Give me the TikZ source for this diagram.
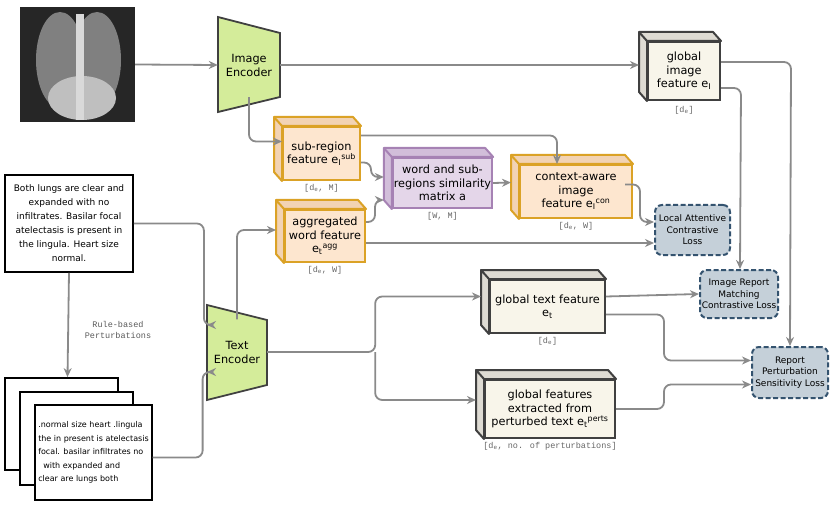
\documentclass[tikz,border=0pt]{standalone}
\usepackage{fontspec}
\setmainfont{DejaVu Sans}
\newfontfamily\monofont{Liberation Mono}
\usetikzlibrary{arrows.meta,positioning,calc}
\definecolor{encfill}{HTML}{D4EC9A}
\definecolor{orfill}{HTML}{FDE6CF}
\definecolor{orside}{HTML}{F2D3B4}
\definecolor{ordraw}{HTML}{DBA226}
\definecolor{pufill}{HTML}{E4D6E9}
\definecolor{puside}{HTML}{D2BEDA}
\definecolor{pudraw}{HTML}{A682B4}
\definecolor{glfill}{HTML}{F8F5EA}
\definecolor{glside}{HTML}{DEDBD3}
\definecolor{lossfill}{HTML}{C5D0D9}
\definecolor{lossdraw}{HTML}{34536F}
\definecolor{flow}{HTML}{8A8A8A}
\tikzset{%
  box/.style      = {shape=rectangle, draw, line width=2pt, align=center,%
                     font=\fontsize{11.3}{13.5}\selectfont, inner sep=1pt},%
  subbox/.style   = {box, fill=orfill, draw=ordraw},%
  simbox/.style   = {box, fill=pufill, draw=pudraw},%
  glbox/.style    = {box, fill=glfill, draw=black!75},%
  loss/.style     = {shape=rectangle, rounded corners=7pt, draw=lossdraw,%
                     fill=lossfill, dash pattern=on 5pt off 2.5pt,%
                     line width=2pt, align=center, inner sep=1pt,%
                     font=\fontsize{9}{11.5}\selectfont},%
  report/.style   = {shape=rectangle, draw, line width=1.8pt, fill=white,%
                     align=center, inner sep=1pt,%
                     font=\fontsize{9}{14}\selectfont},%
  dims/.style     = {font=\monofont\fontsize{8.5}{9}\selectfont, text=black!60},%
  encoder/.style  = {draw=black!75, fill=encfill, line width=1.8pt},%
  flow/.style     = {draw=flow, line width=1.8pt, rounded corners=7pt,%
                     -{Stealth[length=9pt,width=8pt]}}%
}
\newcommand\cubesides[3]{%
  \draw[#3, line width=2pt, fill=#2, line join=round]
    (#1.north west) -- ++(-8,-9) -- ($(#1.north east)+(-8,-9)$) -- (#1.north east) -- cycle
    (#1.north west) -- ++(-8,-9) -- ($(#1.south west)+(-8,-9)$) -- (#1.south west) -- cycle;}
\begin{document}
\begin{tikzpicture}[x=1pt,y=-1pt]
\useasboundingbox (0,0) rectangle (836,516);
% x-ray
\fill[black!85] (20,7) rectangle (135,122);
\fill[black!50] (60,60) ellipse (24 and 48);
\fill[black!50] (97,60) ellipse (24 and 48);
\fill[black!25] (82,98) ellipse (34 and 22);
\fill[black!15] (76,14) rectangle (84,120);
\node[inner sep=0pt, minimum width=115pt, minimum height=115pt] (xray) at (77.5,64.5) {};
% encoders
\draw[encoder] (218,17) -- (280,33) -- (280,97) -- (218,112) -- cycle;
\node[align=center, font=\fontsize{11.3}{14}\selectfont, minimum width=62pt, minimum height=64pt, inner sep=0pt] (imgenc) at (249,65) {Image\\Encoder};
\draw[encoder] (207,305) -- (267,320) -- (267,385) -- (207,400) -- cycle;
\node[align=center, font=\fontsize{11.3}{14}\selectfont, minimum width=60pt, minimum height=65pt, inner sep=0pt] (txtenc) at (237,352) {Text\\Encoder};
% feature cubes
\node[glbox, minimum width=72pt, minimum height=58pt] (glimg) at (684,71) {global\\image\\feature e\textsubscript{I}};
\cubesides{glimg}{glside}{black!75}
\node[dims, below=2pt of glimg.south] {[d\textsubscript{e}]};
\node[subbox, minimum width=77pt, minimum height=53pt] (subreg) at (321.5,153.5) {sub-region\\feature e\textsubscript{I}\textsuperscript{sub}};
\cubesides{subreg}{orside}{ordraw}
\node[dims, below=0pt of subreg.south] {[d\textsubscript{e}, M]};
\node[simbox, minimum width=97pt, minimum height=50pt] (simmat) at (442.5,183) {word and sub-\\regions similarity\\matrix a};
\cubesides{simmat}{puside}{pudraw}
\node[dims, below=0pt of simmat.south] {[W, M]};
\node[subbox, minimum width=112pt, minimum height=53pt] (ctx) at (576,191.5) {context-aware\\image\\feature e\textsubscript{I}\textsuperscript{con}};
\cubesides{ctx}{orside}{ordraw}
\node[dims, below=0pt of ctx.south] {[d\textsubscript{e}, W]};
\node[subbox, minimum width=80pt, minimum height=52pt] (agg) at (325,236) {aggregated\\word feature\\e\textsubscript{t}\textsuperscript{agg}};
\cubesides{agg}{orside}{ordraw}
\node[dims, below=0pt of agg.south] {[d\textsubscript{e}, W]};
\node[glbox, minimum width=115pt, minimum height=53pt] (gltxt) at (547.5,306.5) {global text feature\\e\textsubscript{t}};
\cubesides{gltxt}{glside}{black!75}
\node[dims, below=0pt of gltxt.south] {[d\textsubscript{e}]};
\node[glbox, minimum width=130pt, minimum height=58pt] (glpert) at (550,409) {global features\\extracted from\\perturbed text e\textsubscript{t}\textsuperscript{perts}};
\cubesides{glpert}{glside}{black!75}
\node[dims, below=0pt of glpert.south] {[d\textsubscript{e}, no. of perturbations]};
% losses
\node[loss, minimum width=75pt, minimum height=50pt] (lacl) at (692.5,230) {Local Attentive\\Contrastive\\Loss};
\node[loss, minimum width=78pt, minimum height=48pt] (irm) at (739,294) {Image Report\\Matching\\Contrastive Loss};
\node[loss, minimum width=76pt, minimum height=51pt] (rps) at (790,372.5) {Report\\Perturbation\\Sensitivity Loss};
% reports
\node[report, minimum width=128pt, minimum height=97pt] (rep) at (69,223.5) {Both lungs are clear and\\expanded with no\\infiltrates. Basilar focal\\atelectasis is present in\\the lingula. Heart size\\normal.};
\node[report, minimum width=113pt, minimum height=92pt] (p1) at (61.5,424) {};
\node[report, minimum width=113pt, minimum height=93pt] (p2) at (76.5,438.5) {};
\node[report, minimum width=113pt, minimum height=95pt, align=left, inner sep=3pt, font=\fontsize{8}{13.5}\selectfont] (p3) at (93.5,452.5) {.normal size heart .lingula\\the in present is atelectasis\\focal. basilar infiltrates no\\\ \ with expanded and\\clear are lungs both};
\node[font=\monofont\fontsize{8.5}{11}\selectfont, text=black!65, align=center] (rule) at (118,330) {Rule-based\\Perturbations};
% connectors
\draw[flow] (xray.east) -- (imgenc.west);
\draw[flow] (imgenc.east) -- (639,65);
\draw[flow] (imgenc.south) |- ($(subreg.west)+(0,-12)$);
\draw[flow] (rep.south) -- ($(p1.north)+(6,0)$);
\draw[flow] (rep.east) -- ++(70,0) |- (207,325);
\draw[flow] ($(p3.east)+(0,5)$) -- ++(50,0) |- (207,372);
\draw[flow] (txtenc.north) |- ($(agg.west)+(-8,-6)$);
\draw[flow] (txtenc.east) -- ++(108,0) |- ($(gltxt.west)+(-8,-10)$);
\draw[flow] (txtenc.east) ++(108,0) |- ($(glpert.west)+(-8,-9)$);
\draw[flow] ($(subreg.east)+(0,-18)$) -| ($(ctx.north)+(-19,0)$);
\draw[flow] ($(subreg.east)+(0,9)$) -- ++(10,0) |- ($(simmat.west)+(-8,-6)$);
\draw[flow] ($(agg.east)+(0,-14)$) -- ++(9,0) |- ($(simmat.west)+(-8,17)$);
\draw[flow] (simmat.east) -- ($(ctx.west)+(-8,-9)$);
\draw[flow] ($(ctx.east)+(-8,-7)$) -- ++(15,0) |- ($(lacl.west)+(0,-8)$);
\draw[flow] ($(agg.east)+(0,7)$) -- ($(lacl.west)+(0,13)$);
\draw[flow] ($(glimg.east)+(0,-9)$) -- ++(70,0) -- (rps.north -| 790,0);
\draw[flow] ($(glimg.east)+(0,17)$) -- ++(20,0) -- (irm.north -| 740,0);
\draw[flow] ($(gltxt.east)+(0,-10)$) -- (irm.west);
\draw[flow] ($(gltxt.east)+(0,8)$) -- ++(58,0) |- ($(rps.west)+(0,-12)$);
\draw[flow] (glpert.east) -- ++(48,0) |- ($(rps.west)+(0,12)$);
\end{tikzpicture}
\end{document}
